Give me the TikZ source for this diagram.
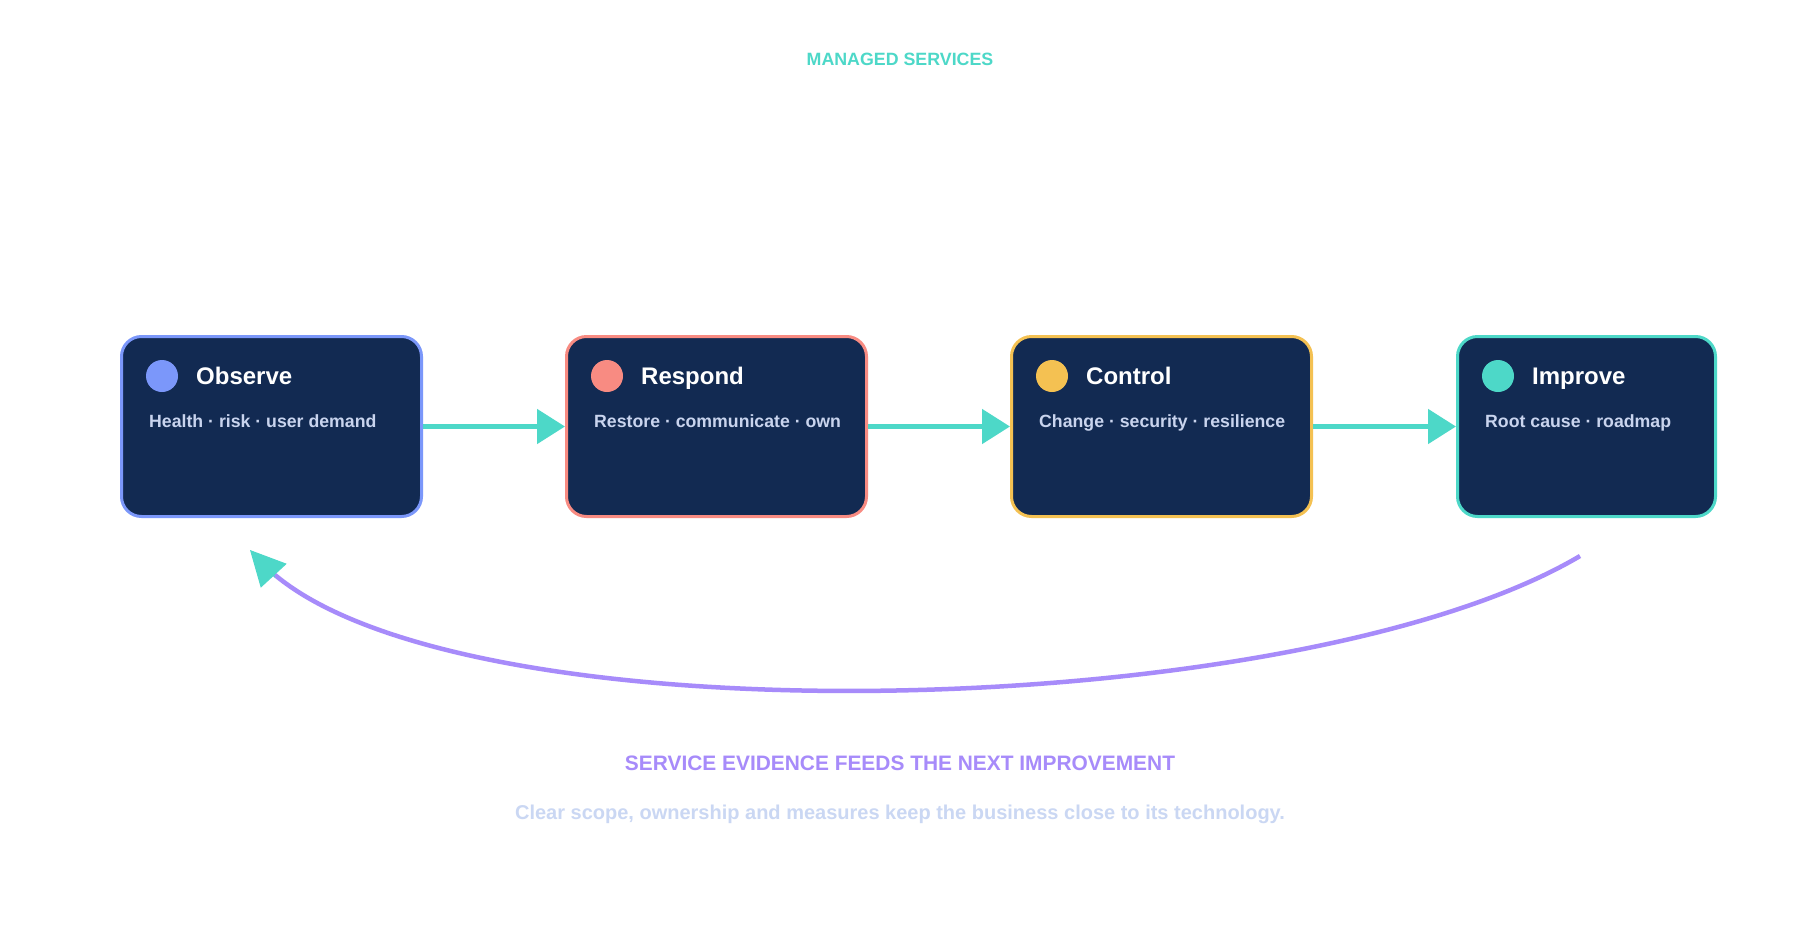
\documentclass[tikz,border=0pt]{standalone}
\usepackage{fontspec}
\setmainfont{Liberation Sans}
\usetikzlibrary{arrows.meta,calc}
\definecolor{navy}{HTML}{122A52}
\definecolor{cobs}{HTML}{7B97FA}
\definecolor{cres}{HTML}{F88B82}
\definecolor{ccon}{HTML}{F4C152}
\definecolor{cimp}{HTML}{4DD8C8}
\definecolor{cpurp}{HTML}{A78BFA}
\definecolor{subtxt}{HTML}{C9D4EE}
\definecolor{foottxt}{HTML}{CAD7F3}
\tikzset{
  stagebox/.style={draw, line width=3pt, fill=navy, rounded corners=20pt, minimum height=180pt, inner sep=0pt, anchor=north west},
  stagedot/.style={circle, minimum size=32pt, inner sep=0pt},
  stagetitle/.style={anchor=base west, inner sep=0pt, text=white, font=\bfseries\fontsize{24}{28}\selectfont},
  stagesub/.style={anchor=base west, inner sep=0pt, text=subtxt, font=\bfseries\fontsize{17.7}{22}\selectfont},
  flow/.style={draw=cimp, line width=5pt, -{Triangle[length=28pt,width=34pt]}, color=cimp},
  feedback/.style={draw=cpurp, line width=4.5pt, shorten >=14pt},
  feedtip/.style={draw=cimp, line width=1pt, -{Triangle[length=35pt,width=35pt,color=cimp]}},
}
\begin{document}
\begin{tikzpicture}[x=1pt,y=-1pt]
\useasboundingbox (0,0) rectangle (1800,940);
\fill[white] (0,0) rectangle (1800,940);

\node[anchor=base, inner sep=0pt, text=cimp, font=\bfseries\fontsize{17.8}{20}\selectfont] (head) at (900,65) {MANAGED SERVICES};

% boxes
\node[stagebox, draw=cobs, minimum width=300pt] (obs) at (120,335) {};
\node[stagebox, draw=cres, minimum width=300pt] (res) at (565,335) {};
\node[stagebox, draw=ccon, minimum width=300pt] (con) at (1010,335) {};
\node[stagebox, draw=cimp, minimum width=258pt] (imp) at (1456,335) {};

\node[stagedot, fill=cobs] (obsdot) at (162,376) {};
\node[stagetitle] (obst) at (196,384) {Observe};
\node[stagesub] (obss) at (149,427) {Health · risk · user demand};

\node[stagedot, fill=cres] (resdot) at (607,376) {};
\node[stagetitle] (rest) at (641,384) {Respond};
\node[stagesub] (ress) at (594,427) {Restore · communicate · own};

\node[stagedot, fill=ccon] (condot) at (1052,376) {};
\node[stagetitle] (cont) at (1086,384) {Control};
\node[stagesub] (cons) at (1039,427) {Change · security · resilience};

\node[stagedot, fill=cimp] (impdot) at (1498,376) {};
\node[stagetitle] (impt) at (1532,384) {Improve};
\node[stagesub] (imps) at (1485,427) {Root cause · roadmap};

% flow arrows
\draw[flow] (obs.east) -- (res.west);
\draw[flow] (res.east) -- (con.west);
\draw[flow] (con.east) -- (imp.west);

% feedback loop
\coordinate (fbstart) at (1580,556);
\coordinate (fbend) at (250,550);
\coordinate (fbc1) at (1295,725);
\coordinate (fbc2) at (430,745);
\coordinate (fbtail) at ($(fbend)!37pt!(fbc2)$);
\draw[feedback] (fbstart) .. controls (fbc1) and (fbc2) .. (fbend);
\draw[feedtip] (fbtail) -- (fbend);

\node[anchor=base, inner sep=0pt, text=cpurp, font=\bfseries\fontsize{20.9}{24}\selectfont] (fbtitle) at (900,770) {SERVICE EVIDENCE FEEDS THE NEXT IMPROVEMENT};
\node[anchor=base, inner sep=0pt, text=foottxt, font=\bfseries\fontsize{20}{24}\selectfont] (foot) at (900,819) {Clear scope, ownership and measures keep the business close to its technology.};
\end{tikzpicture}
\end{document}
